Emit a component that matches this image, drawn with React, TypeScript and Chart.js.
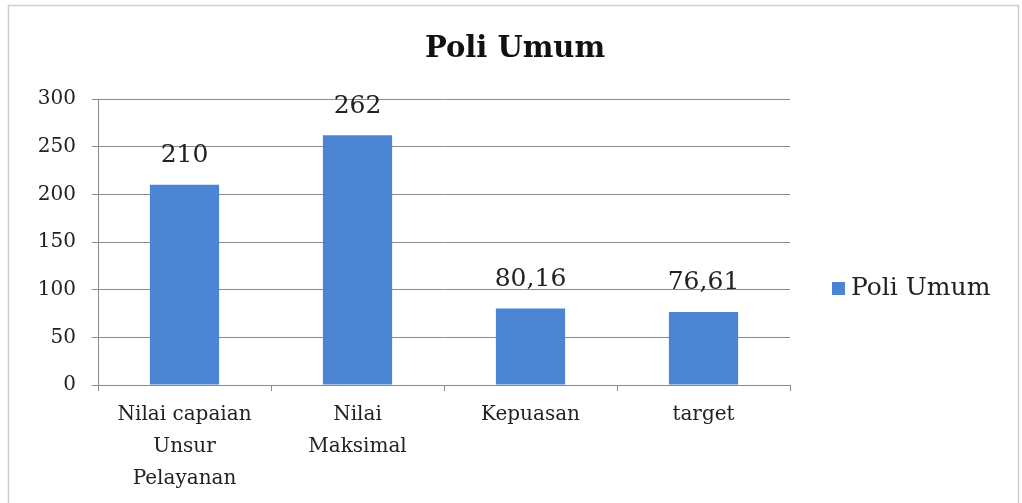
import React, { useEffect, useRef } from "react";
import { Chart, registerables } from "chart.js";

Chart.register(...registerables);

const categories: (string | string[])[] = [
  ["Nilai capaian", "Unsur", "Pelayanan"],
  ["Nilai", "Maksimal"],
  "Kepuasan",
  "target",
];
const seriesName = "Poli Umum";
const values = [210, 262, 80.16, 76.61];
const yTicks = [0, 50, 100, 150, 200, 250, 300];

const BAR_COLOR = "#4a84d2";

const frame = {
  id: "frame",
  beforeDraw(chart: any) {
    const ctx = chart.ctx;
    ctx.save();
    ctx.fillStyle = "#ffffff";
    ctx.fillRect(0, 0, chart.width, chart.height);
    ctx.strokeStyle = "#cfcfcf";
    ctx.lineWidth = 1.5;
    ctx.beginPath();
    ctx.moveTo(8.5, chart.height);
    ctx.lineTo(8.5, 5.5);
    ctx.lineTo(1018.5, 5.5);
    ctx.lineTo(1018.5, chart.height);
    ctx.stroke();
    ctx.restore();
  },
};

const dataLabels = {
  id: "dataLabels",
  afterDatasetsDraw(chart: any) {
    const ctx = chart.ctx;
    const meta = chart.getDatasetMeta(0);
    ctx.save();
    ctx.font = '25px "DejaVu Serif"';
    ctx.fillStyle = "#222222";
    ctx.textAlign = "center";
    ctx.textBaseline = "middle";
    meta.data.forEach((bar: any, i: number) => {
      const v = chart.data.datasets[0].data[i];
      ctx.fillText(String(v).replace(".", ","), bar.x, bar.y - 29);
    });
    ctx.restore();
  },
};

const sideLegend = {
  id: "sideLegend",
  afterDraw(chart: any) {
    const ctx = chart.ctx;
    const ds = chart.data.datasets[0];
    const x = chart.chartArea.right + 42;
    const y = 288;
    ctx.save();
    ctx.fillStyle = ds.backgroundColor;
    ctx.fillRect(x, y - 6, 13, 13);
    ctx.font = '25px "DejaVu Serif"';
    ctx.fillStyle = "#222222";
    ctx.textAlign = "left";
    ctx.textBaseline = "middle";
    ctx.fillText(ds.label, x + 19, y);
    ctx.restore();
  },
};

export default function App() {
  const ref = useRef<HTMLCanvasElement>(null);
  useEffect(() => {
    document.body.style.margin = "0";
    const chart = new Chart(ref.current!, {
      type: "bar",
      data: {
        labels: categories,
        datasets: [
          {
            label: seriesName,
            data: values,
            backgroundColor: BAR_COLOR,
            barPercentage: 0.4,
            categoryPercentage: 1,
          },
        ],
      },
      options: {
        animation: false,
        responsive: false,
        layout: { padding: { left: 8, right: 0, top: 0, bottom: 0 } },
        plugins: {
          title: {
            display: true,
            text: "Poli Umum",
            color: "#111111",
            font: { family: "DejaVu Serif", size: 29, weight: "bold", lineHeight: 1.2 },
            padding: { top: 32, bottom: 32.2 },
          },
          legend: { display: false },
          tooltip: { enabled: false },
        },
        scales: {
          x: {
            offset: true,
            grid: {
              display: true,
              drawOnChartArea: false,
              drawTicks: true,
              tickLength: 6,
              offset: true,
              color: "#8a8a8a",
            },
            border: { color: "#8a8a8a" },
            ticks: {
              color: "#222222",
              padding: 8,
              maxRotation: 0,
              autoSkip: false,
              font: { family: "DejaVu Serif", size: 20, lineHeight: 1.6 },
            },
          },
          y: {
            min: 0,
            max: 300,
            afterBuildTicks: (s: any) => {
              s.ticks = yTicks.map((v) => ({ value: v }));
            },
            afterFit: (s: any) => {
              s.width = 90;
            },
            grid: { color: "#8a8a8a", tickLength: 6, drawTicks: true },
            border: { color: "#8a8a8a" },
            ticks: {
              color: "#222222",
              padding: 16,
              font: { family: "DejaVu Serif", size: 20 },
            },
          },
          gap: {
            type: "linear",
            position: "right",
            display: true,
            grid: { display: false, drawTicks: false },
            border: { display: false },
            ticks: { display: false },
            afterFit: (s: any) => {
              s.width = 232;
            },
          },
        },
      },
      plugins: [frame, dataLabels, sideLegend],
    });
    return () => chart.destroy();
  }, []);
  return <canvas ref={ref} width={1022} height={503} style={{ display: "block" }} />;
}
